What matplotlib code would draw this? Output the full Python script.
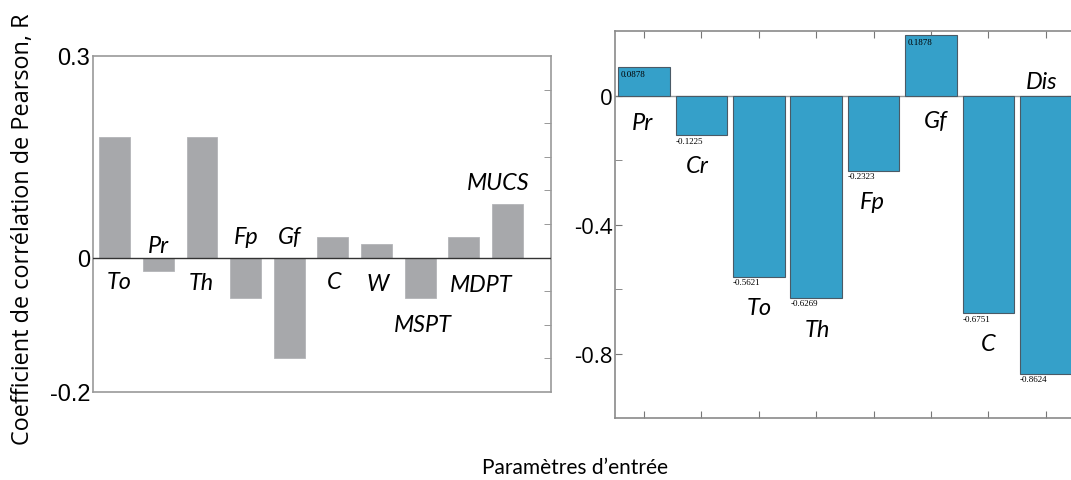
import numpy as np
import matplotlib.pyplot as plt

# left panel data
left_names = ['To', 'Pr', 'Th', 'Fp', 'Gf', 'C', 'W', 'MSPT', 'MDPT', 'MUCS']
left_r = [0.18, -0.02, 0.18, -0.06, -0.15, 0.03, 0.02, -0.06, 0.03, 0.08]

# right panel data
right_names = ['Pr', 'Cr', 'To', 'Th', 'Fp', 'Gf', 'C', 'Dis']
right_r = [0.0878, -0.1225, -0.5621, -0.6269, -0.2323, 0.1878, -0.6751, -0.8624]

# where the italic names sit (data coords)
left_lab_xy = [(1.11, -0.035), (1.99, 0.018), (2.99, -0.037), (4.02, 0.031), (5.0, 0.031),
               (6.02, -0.036), (7.04, -0.038), (8.07, -0.099), (9.41, -0.040), (9.78, 0.111)]
right_lab_xy = [(0.98, -0.084), (1.93, -0.218), (3.0, -0.657), (4.03, -0.726),
                (4.98, -0.327), (6.08, -0.078), (6.99, -0.769), (7.93, 0.044)]

fig = plt.figure(figsize=(10.71, 4.81), dpi=100)

# ---------- left ----------
ax1 = fig.add_axes([0.0868, 0.183, 0.4276, 0.6985])
xl = np.arange(1, len(left_r) + 1)
ax1.bar(xl, left_r, width=0.71, color='#a7a8ab', edgecolor='#b4b5b8', linewidth=0.6, zorder=2)
ax1.axhline(0, color='#333333', lw=1.0, zorder=3)
ax1.set_xlim(0.5, 11.0)
ax1.set_ylim(-0.2, 0.3)
ax1.set_xticks([])
ax1.set_yticks([0.3, 0, -0.2])
ax1.set_yticklabels(['0.3', '0', '-0.2'], family='Liberation Sans', fontsize=17)
ax1.set_yticks(np.arange(-0.2, 0.31, 0.05), minor=True)
ax1.tick_params(axis='y', which='major', length=0, pad=2)
ax1.tick_params(axis='y', which='minor', direction='in', length=5, right=True, left=False,
                color='#888888')
for s in ax1.spines.values():
    s.set_color('#999999')
    s.set_linewidth(1.2)
for name, (x, y) in zip(left_names, left_lab_xy):
    ax1.text(x, y, name, family='Lato', style='italic', fontsize=16.8,
             ha='center', va='center', zorder=4)

fig.text(0.0215, 0.523, 'Coefficient de corrélation de Pearson, R', family='Open Sans',
         fontsize=16.9, rotation=90, ha='center', va='center')

# ---------- right ----------
ax2 = fig.add_axes([0.5745, 0.1289, 0.4287, 0.804])
xr = np.arange(1, len(right_r) + 1)
ax2.bar(xr, right_r, width=0.9, color='#35a0c9', edgecolor='#4a5a66', linewidth=0.8, zorder=2)
ax2.axhline(0, color='#9a9a9a', lw=1.0, zorder=1)
ax2.set_xlim(0.5, 8.5)
ax2.set_ylim(-1.0, 0.2)
ax2.set_xticks(xr)
ax2.set_xticklabels([])
ax2.set_yticks([0, -0.4, -0.8])
ax2.set_yticklabels(['0', '-0.4', '-0.8'], family='Open Sans', fontsize=16)
ax2.set_yticks([-0.2, -0.6], minor=True)
ax2.tick_params(axis='x', direction='in', length=5, top=True, color='#777777')
ax2.tick_params(axis='y', which='both', direction='in', length=5, right=True,
                color='#777777', pad=2)
for s in ax2.spines.values():
    s.set_color('#8a8a8a')
    s.set_linewidth(1.2)
for x, v in zip(xr, right_r):
    if v >= 0:
        ax2.annotate('%.4f' % v, (x - 0.43, v), xytext=(1, -2), textcoords='offset points',
                     family='Liberation Serif', fontsize=6.5, ha='left', va='top', zorder=4)
    else:
        ax2.annotate('%.4f' % v, (x - 0.45, v), xytext=(0, -1), textcoords='offset points',
                     family='Liberation Serif', fontsize=6.5, ha='left', va='top', zorder=4)
for name, (x, y) in zip(right_names, right_lab_xy):
    ax2.text(x, y, name, family='Lato', style='italic', fontsize=17,
             ha='center', va='center', zorder=4)

fig.text(0.537, 0.028, 'Paramètres d\u2019entrée', family='Lato', fontsize=15,
         ha='center', va='center')

fig.savefig('out.png', dpi=100)
